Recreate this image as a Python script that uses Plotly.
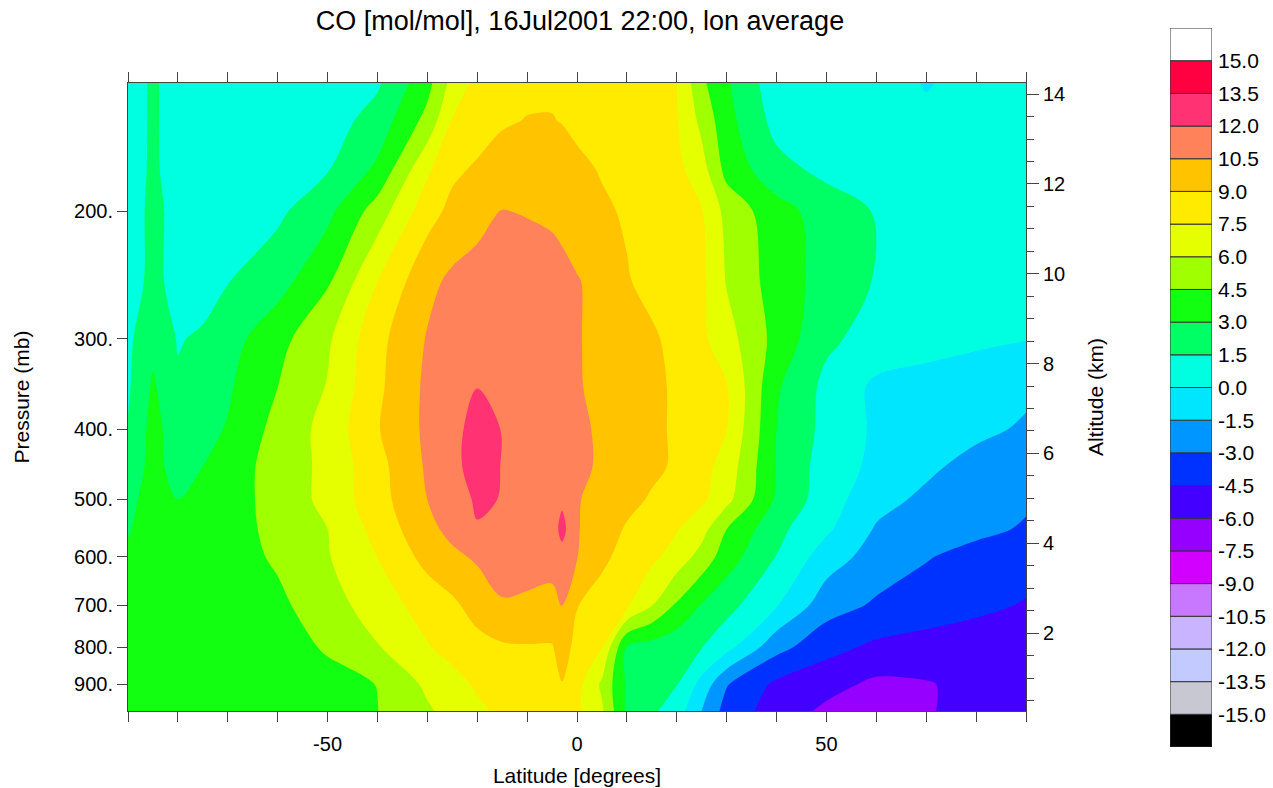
import math
import plotly.graph_objects as go

# ---------------- data ----------------
lat = [-90, -85, -80, -75, -70, -60, -50, -40, -30, -25, -20, -15, -10, -5, -3,
       0, 5, 10, 15, 20, 25, 30, 40, 50, 60, 70, 80, 90]

pressure = [133, 150, 175, 200, 250, 300, 350, 400, 450, 500, 550, 600, 700, 800, 900, 980]

co_p133 = [0.5, 1.8, 0.6, 0.4, 0.4, 0.5, 0.6, 1.3, 4.0, 6.5, 7.9, 8.3, 8.7, 8.8, 8.75, 8.6, 8.4, 8.2, 7.9, 7.55, 4.8, 3.2, 0.6, 0.7, 0.7, -0.1, 0.5, 0.5]
co_p150 = [0.5, 1.8, 0.6, 0.4, 0.4, 0.5, 0.8, 2.1, 5.0, 7.6, 8.3, 8.85, 9.05, 9.05, 8.95, 8.7, 8.5, 8.3, 8.0, 7.6, 5.6, 3.5, 1.0, 0.8, 0.7, 0.3, 0.5, 0.5]
co_p175 = [0.6, 1.8, 0.7, 0.5, 0.5, 0.7, 1.4, 3.3, 7.25, 8.7, 9.2, 9.6, 9.8, 9.7, 9.6, 9.3, 8.9, 8.6, 8.3, 7.9, 6.6, 4.0, 2.0, 1.1, 0.8, 0.6, 0.6, 0.6]
co_p200 = [0.7, 1.9, 1.0, 0.8, 0.8, 1.2, 2.6, 5.2, 8.4, 9.4, 9.9, 10.55, 10.4, 10.2, 10.0, 9.7, 9.2, 8.85, 8.5, 8.1, 7.6, 5.5, 3.6, 2.3, 1.4, 1.0, 0.8, 0.7]
co_p250 = [0.8, 1.9, 1.0, 0.9, 1.45, 2.4, 4.3, 7.5, 10.1, 10.8, 11.2, 11.4, 11.4, 11.2, 11.0, 10.6, 10.0, 9.1, 8.6, 8.2, 7.8, 5.9, 3.8, 2.4, 1.4, 1.0, 0.8, 0.6]
co_p300 = [1.2, 2.6, 1.4, 1.7, 2.4, 4.0, 5.75, 8.55, 10.6, 11.1, 11.4, 11.5, 11.5, 11.3, 11.2, 10.6, 10.1, 9.8, 9.2, 8.6, 7.8, 6.6, 4.0, 1.8, 0.9, 0.6, 0.3, 0.05]
co_p350 = [1.3, 3.2, 1.7, 2.3, 2.8, 4.5, 6.1, 8.7, 10.8, 11.4, 11.98, 11.8, 11.6, 11.4, 11.3, 10.6, 10.2, 9.7, 9.3, 8.8, 8.2, 7.6, 3.2, 1.1, -0.3, -0.6, -0.9, -1.2]
co_p400 = [1.6, 3.5, 2.2, 2.6, 3.1, 5.0, 6.5, 8.9, 10.8, 11.5, 12.6, 11.95, 11.7, 11.5, 11.4, 10.9, 10.2, 9.7, 9.3, 8.8, 8.2, 7.5, 3.0, 1.05, -0.25, -0.7, -1.15, -1.7]
co_p450 = [2.0, 3.5, 2.4, 3.0, 3.75, 5.1, 6.4, 8.5, 10.7, 11.6, 12.6, 11.95, 11.7, 11.5, 11.5, 11.0, 10.2, 9.8, 9.3, 8.8, 8.05, 6.9, 2.9, 0.8, -0.35, -1.2, -2.0, -2.4]
co_p500 = [2.6, 3.6, 3.0, 3.4, 3.9, 5.0, 6.45, 8.4, 10.5, 11.3, 12.2, 11.95, 11.6, 11.4, 11.7, 10.6, 10.0, 9.4, 8.85, 8.3, 7.8, 6.45, 2.75, 0.7, -1.0, -1.8, -2.3, -2.8]
co_p550 = [2.9, 3.6, 3.4, 3.6, 3.9, 4.9, 6.0, 8.0, 10.1, 10.9, 11.9, 11.6, 11.4, 11.2, 12.5, 10.6, 9.7, 8.85, 8.25, 7.6, 6.55, 4.5, 1.9, 0.25, -1.65, -2.15, -2.65, -3.15]
co_p600 = [3.2, 3.7, 3.6, 3.7, 3.9, 4.7, 5.9, 7.52, 9.5, 10.2, 10.7, 11.0, 11.1, 11.0, 11.4, 10.55, 9.3, 8.5, 7.85, 6.85, 5.45, 3.7, 1.45, -0.75, -2.15, -2.9, -3.5, -3.95]
co_p700 = [3.4, 3.7, 3.7, 3.8, 3.9, 4.2, 5.3, 6.8, 8.1, 8.7, 9.6, 10.4, 10.25, 10.1, 10.55, 9.05, 8.4, 7.75, 6.05, 4.3, 2.9, 2.0, 0.1, -2.35, -3.2, -3.7, -4.2, -4.6]
co_p800 = [3.5, 3.7, 3.7, 3.8, 3.9, 4.1, 4.6, 5.9, 7.4, 8.0, 8.5, 8.8, 8.9, 8.9, 9.6, 8.6, 7.55, 2.9, 2.4, 2.0, 1.55, 0.5, -2.5, -4.0, -4.8, -5.1, -5.2, -5.1]
co_p900 = [3.6, 3.7, 3.8, 3.8, 3.9, 4.0, 4.2, 4.52, 6.3, 7.0, 7.7, 8.0, 8.1, 7.9, 8.95, 8.0, 5.75, 2.75, 2.15, 1.55, -0.5, -2.9, -4.8, -5.5, -6.3, -6.1, -5.6, -5.4]
co_p980 = [3.7, 3.7, 3.8, 3.8, 3.9, 4.0, 4.2, 4.48, 5.8, 6.5, 7.2, 7.8, 8.0, 7.9, 8.2, 7.8, 6.2, 2.7, 1.75, 0.75, -1.52, -3.6, -5.2, -6.3, -6.6, -6.1, -5.6, -5.4]

co_rows = [co_p133, co_p150, co_p175, co_p200, co_p250, co_p300, co_p350, co_p400,
           co_p450, co_p500, co_p550, co_p600, co_p700, co_p800, co_p900, co_p980]
for r in co_rows:
    assert len(r) == len(lat), len(r)

# contour levels / colour table
level_start, level_end, level_step = -15.0, 15.0, 1.5
band_colors = [
    "#000000",  # < -15
    "#C8C8D2", "#C2CAFF", "#C8B4FF", "#C878FF", "#D200FF", "#9600FF",
    "#4400FF", "#0032FF", "#0096FF", "#00E6FF",
    "#00FFE1", "#00FF64", "#12FF12", "#A0FF00", "#E6FF00", "#FFEB00",
    "#FFC300", "#FF825A", "#FF3273", "#FF0040",
    "#FFFFFF",  # > 15
]
n_levels = int(round((level_end - level_start) / level_step)) + 1
cbar_values = [level_start + i * level_step for i in range(n_levels)]
cbar_labels = ["%.1f" % v for v in cbar_values]

pressure_ticks = [200, 300, 400, 500, 600, 700, 800, 900]
pressure_ticktext = ["%d." % p for p in pressure_ticks]
lat_ticks = list(range(-90, 91, 10))
lat_ticktext = [str(v) if v in (-50, 0, 50) else "" for v in lat_ticks]

# axis extent and pressure <-> altitude relation (scale-height atmosphere)
p_top, p_bottom = 133.0, 980.0
scale_height_km, p_surface = 7.0, 1018.0
alt_bottom = scale_height_km * math.log(p_surface / p_bottom)
alt_top = scale_height_km * math.log(p_surface / p_top)

# discrete colour scale: band k coloured at position k/(n-1)
nb = len(band_colors)
colorscale = []
for k, c in enumerate(band_colors):
    lo = max(0.0, (k - 0.5) / (nb - 1))
    hi = min(1.0, (k + 0.5) / (nb - 1))
    colorscale.append([lo, c])
    colorscale.append([hi, c])

FONT = "Liberation Sans, Arial, Helvetica, sans-serif"
AX = "#444444"

fig = go.Figure()
fig.add_trace(go.Contour(
    x=lat, y=pressure, z=co_rows,
    autocontour=False,
    contours=dict(start=level_start, end=level_end, size=level_step, coloring="fill", showlines=False),
    colorscale=colorscale, showscale=False,
    line=dict(width=0),
    xaxis="x", yaxis="y", hoverinfo="skip",
))
# invisible trace so the altitude axis is drawn
fig.add_trace(go.Scatter(x=[lat[0]], y=[alt_bottom], xaxis="x", yaxis="y2", mode="markers",
                         marker=dict(opacity=0), showlegend=False, hoverinfo="skip"))
# colour bar built as stacked boxes
fig.add_trace(go.Bar(
    x=[0] * nb, y=[1] * nb, base=list(range(nb)), width=1,
    marker=dict(color=band_colors, line=dict(color="#333333", width=1)),
    xaxis="x3", yaxis="y3", showlegend=False, hoverinfo="skip",
))

W, H = 1273, 788
ml, mr, mt, mb = 128, 61, 28, 41
pw, ph = W - ml - mr, H - mt - mb
main_right = 1026
main_top, main_bottom = 83, 711
cb_left = 1170
y_dom = [(H - mb - main_bottom) / ph, (H - mb - main_top) / ph]

fig.update_layout(
    template="none",
    width=W, height=H,
    margin=dict(l=ml, r=mr, t=mt, b=mb, pad=0),
    paper_bgcolor="white", plot_bgcolor="white",
    font=dict(family=FONT, size=20, color="black"),
    showlegend=False,
    title=dict(text="CO [mol/mol], 16Jul2001 22:00, lon average",
               x=580 / W, xanchor="center", xref="container",
               y=1 - 21 / H, yanchor="middle", yref="container",
               font=dict(size=27, family=FONT, color="black")),
    xaxis=dict(domain=[0, (main_right - ml) / pw], range=[-90, 90], anchor="y",
               tickmode="array", tickvals=lat_ticks, ticktext=lat_ticktext,
               ticks="outside", ticklen=10, tickwidth=1, tickcolor=AX,
               ticklabelstandoff=5, tickfont=dict(size=20),
               showline=True, linecolor=AX, linewidth=1, mirror="ticks",
               showgrid=False, zeroline=False, automargin=False,
               title=dict(text="Latitude [degrees]", standoff=14, font=dict(size=21))),
    yaxis=dict(domain=y_dom, type="log", anchor="x",
               range=[math.log10(p_bottom), math.log10(p_top)],
               tickmode="array", tickvals=pressure_ticks, ticktext=pressure_ticktext,
               ticks="outside", ticklen=10, tickwidth=1, tickcolor=AX,
               tickfont=dict(size=20),
               showline=True, linecolor=AX, linewidth=1,
               showgrid=False, zeroline=False, automargin=False,
               title=dict(text="Pressure (mb)", standoff=38, font=dict(size=21))),
    yaxis2=dict(overlaying="y", side="right", anchor="x",
                range=[alt_bottom, alt_top],
                tick0=0, dtick=2, ticks="outside", ticklen=12, tickwidth=1, tickcolor=AX,
                minor=dict(tick0=0, dtick=0.5, ticks="outside", ticklen=7, tickcolor=AX),
                tickfont=dict(size=20),
                showline=True, linecolor=AX, linewidth=1,
                showgrid=False, zeroline=False, automargin=False,
                title=dict(text="Altitude (km)", standoff=24, font=dict(size=21))),
    xaxis3=dict(domain=[(cb_left - ml) / pw, 1], range=[-0.5, 0.5], anchor="y3",
                visible=False, fixedrange=True),
    yaxis3=dict(domain=[0, 1], range=[0, nb], anchor="x3", side="right",
                tickmode="array", tickvals=list(range(1, nb)), ticktext=cbar_labels,
                ticks="", showline=False, showgrid=False, zeroline=False,
                ticklabelstandoff=5, automargin=False,
                tickfont=dict(size=21)),
)

fig.write_html("out.html")
